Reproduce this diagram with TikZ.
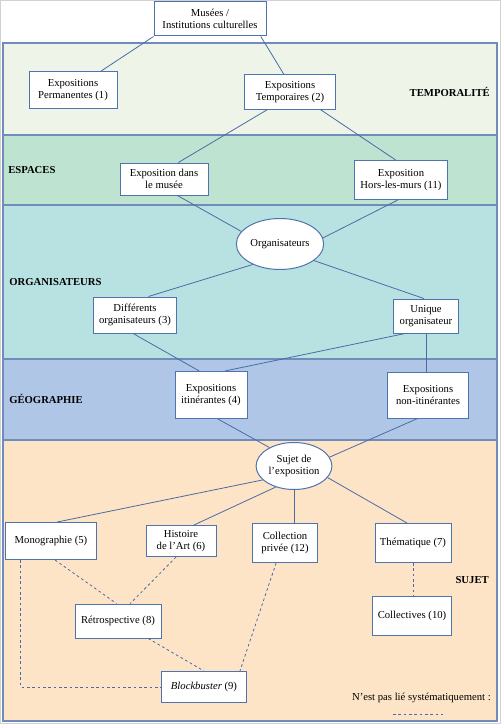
\documentclass[tikz,border=0pt]{standalone}
\usepackage{fontspec}
\setmainfont{Liberation Serif}
\usetikzlibrary{shapes.geometric}
\definecolor{lineblue}{RGB}{74,108,166}
\definecolor{boxblue}{RGB}{79,115,175}
\definecolor{bandline}{RGB}{112,140,188}
\definecolor{tempo}{RGB}{239,244,233}
\definecolor{espace}{RGB}{191,227,209}
\definecolor{orga}{RGB}{184,226,225}
\definecolor{geo}{RGB}{175,198,231}
\definecolor{sujet}{RGB}{253,228,199}
\tikzset{
  box/.style 2 args = {draw = boxblue, fill = white, line width = 0.75pt, align = center, inner sep = 1pt,
    minimum width = #1*0.75pt, minimum height = #2*0.75pt, font = \fontsize{8}{9.5}\selectfont},
  oval/.style 2 args = {box = {#1}{#2}, ellipse},
  link/.style = {draw = lineblue, line width = 0.6pt},
  loose/.style = {link, dash pattern = on 2pt off 2pt},
  bandlabel/.style = {font = \bfseries\fontsize{8}{9}\selectfont, inner sep = 0pt}
}
\begin{document}
\begin{tikzpicture}[x = 0.75pt, y = -0.75pt]
\useasboundingbox (0,0) rectangle (501,724);
\draw[color = gray!35] (0.5,0.5) rectangle (500.5,723.5);
\foreach \ya/\yb/\col in {43/135/tempo, 135/205/espace, 205/359/orga, 359/440/geo, 440/721/sujet}
  \draw [fill = \col, draw = bandline, line width = 0.8pt] (3,\ya) rectangle (497,\yb);
\node[bandlabel, anchor = east] (ltempo) at (490,92) {TEMPORALITÉ};
\node[bandlabel, anchor = west] (lespace) at (8,170) {ESPACES};
\node[bandlabel, anchor = west] (lorga) at (9,282) {ORGANISATEURS};
\node[bandlabel, anchor = west] (lgeo) at (9,399) {GÉOGRAPHIE};
\node[bandlabel, anchor = east] (lsujet) at (489,580) {SUJET};
\node[box = {112}{34}] (mus) at (210,19) {Musées /\\Institutions culturelles};
\node[box = {88}{37}] (perm) at (73,90) {Expositions\\Permanentes (1)};
\node[box = {91}{34}] (temp) at (290,92) {Expositions\\Temporaires (2)};
\node[box = {88}{32}] (dans) at (164,179) {Exposition dans\\le musée};
\node[box = {93}{39}] (hors) at (401,180) {Exposition\\Hors-les-murs (11)};
\node[oval = {70}{51}] (orga) at (280,244) {Organisateurs};
\node[box = {83}{36}] (diff) at (135,315) {Différents\\organisateurs (3)};
\node[box = {65}{34}] (uniq) at (426,316) {Unique\\organisateur};
\node[box = {72}{47}] (itin) at (211,395) {Expositions\\itinérantes (4)};
\node[box = {81}{46}] (nonit) at (428,395) {Expositions\\non-itinérantes};
\node[oval = {69}{47}] (suj) at (294,466) {Sujet de\\l’exposition};
\node[box = {91}{37}] (mono) at (51,541) {Monographie (5)};
\node[box = {70}{31}] (hist) at (181,541) {Histoire\\de l’Art (6)};
\node[box = {65}{39}] (coll) at (285,543) {Collection\\privée (12)};
\node[box = {76}{39}] (them) at (413,543) {Thématique (7)};
\node[box = {86}{34}] (retro) at (118,621) {Rétrospective (8)};
\node[box = {79}{39}] (colle) at (412,616) {Collectives (10)};
\node[box = {85}{31}] (block) at (204,687) {\textit{Blockbuster} (9)};
\node[font = \fontsize{8}{9}\selectfont, inner sep = 0pt, anchor = east] (legend) at (491,698) {N’est pas lié systématiquement :};
\coordinate (keyA) at (393,714);
\coordinate (keyB) at (443,714);
\draw[link] (mus.south west) -- (perm.34);
\draw[link] (mus.341) -- (temp.109);
\draw[link] (temp.218) -- (dans.49);
\draw[link] (temp.330) -- (hors.105);
\draw[link] (dans.309) -- (orga.162);
\draw[link] (hors.261) -- (orga.8);
\draw[link] (orga.217) -- (diff.54);
\draw[link] (orga.334) -- (uniq.97);
\draw[link] (diff.264) -- (itin.116);
\draw[link] (uniq.220) -- (itin.60);
\draw[link] (uniq.south) -- (uniq.south |- nonit.north);
\draw[link] (itin.286) -- (suj.143);
\draw[link] (nonit.246) -- (suj.14);
\draw[link] (suj.204) -- (mono.72);
\draw[link] (suj.229) -- (hist.51);
\draw[link] (suj.south) -- (suj.south |- coll.north);
\draw[link] (suj.341) -- (them.107);
\draw[loose] (mono.282) -- (retro.95);
\draw[loose] (hist.253) -- (retro.55);
\draw[loose] (coll.246) -- (block.24);
\draw[loose] (retro.330) -- (block.north);
\draw[loose] (them.south) -- (them.south |- colle.north);
\draw[loose] (mono.212) |- (block.west);
\draw[loose] (keyA) -- (keyB);
\end{tikzpicture}
\end{document}
